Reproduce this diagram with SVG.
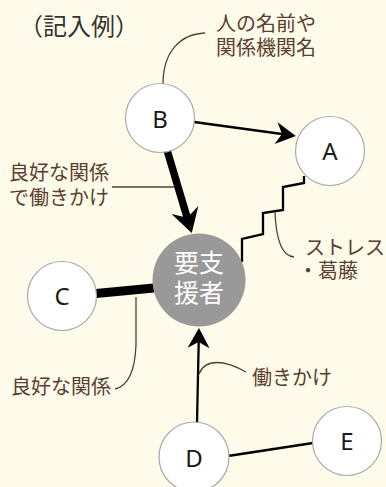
<svg xmlns="http://www.w3.org/2000/svg" width="386" height="487" viewBox="0 0 386 487">
<style>
.bg{fill:#FFFBEA}
.node{fill:#fff;stroke:#a8a8a8;stroke-width:1.2}
.center{fill:#999999}
.lt{font-family:"Noto Sans","Open Sans",sans-serif;font-size:24px;fill:#1a1a1a;text-anchor:middle}
.ct{font-family:"Noto Sans CJK JP",sans-serif;font-size:25px;fill:#ffffff;text-anchor:middle}
.lab{font-family:"Noto Sans CJK JP",sans-serif;font-size:20px;fill:#5a3e2e}
.title{font-family:"Noto Sans CJK JP",sans-serif;font-size:24px;fill:#333333}
.edge{fill:none;stroke:#000;stroke-width:2.3}
.thick{fill:none;stroke:#000;stroke-width:7.5}
.leader{fill:none;stroke:#5a3e2e;stroke-width:1.3}
</style>
<defs>
<marker id="arr" markerUnits="userSpaceOnUse" markerWidth="24" markerHeight="26" refX="6" refY="0" orient="auto" overflow="visible">
<path d="M20,0 L0,-11 L6,0 L0,11 Z" fill="#000"/>
</marker>
<marker id="arrBig" markerUnits="userSpaceOnUse" markerWidth="30" markerHeight="32" refX="8" refY="0" orient="auto" overflow="visible">
<path d="M24,0 L0,-14 L8,0 L0,14 Z" fill="#000"/>
</marker>
</defs>
<rect class="bg" x="0" y="0" width="386" height="487"/>
<text class="title" x="19" y="35">（記入例）</text>
<g id="connectors">
<line class="edge" x1="194" y1="122" x2="282" y2="134" marker-end="url(#arr)"/>
<line class="thick" x1="167" y1="150" x2="187.2" y2="217.7" marker-end="url(#arrBig)"/>
<line class="thick" x1="96" y1="293.5" x2="154" y2="288" style="stroke-width:9"/>
<line class="edge" x1="197" y1="423" x2="198.7" y2="342" marker-end="url(#arr)"/>
<line class="edge" x1="228" y1="456" x2="313" y2="443"/>
<polyline class="edge" points="304,176 304,183 283,187 283,210 263,213 263,234 242,239 242,262"/>
</g>
<g id="leaders">
<path class="leader" d="M205,33 C180,34 163,52 163,84"/>
<line class="leader" x1="112" y1="187" x2="174" y2="187"/>
<path class="leader" d="M275,212 C276,238 281,256 294,257"/>
<path class="leader" d="M136,297 L136,345 C135,372 128,386 115,389"/>
<path class="leader" d="M199,374 C205,358 225,360 246,372"/>
</g>
<g id="node-B">
<circle class="node" cx="160" cy="118" r="34.5"/>
<text class="lt" x="160" y="128">B</text>
</g>
<g id="node-A">
<circle class="node" cx="330" cy="151" r="34.5"/>
<text class="lt" x="330" y="160">A</text>
</g>
<g id="node-C">
<circle class="node" cx="62" cy="296" r="34.5"/>
<text class="lt" x="62" y="305">C</text>
</g>
<g id="node-D">
<circle class="node" cx="194" cy="457" r="35"/>
<text class="lt" x="194" y="467">D</text>
</g>
<g id="node-E">
<circle class="node" cx="347" cy="441" r="34.5"/>
<text class="lt" x="347" y="450">E</text>
</g>
<g id="node-center">
<circle class="center" cx="199" cy="280" r="46.5"/>
<text class="ct" x="199" y="272">要支</text>
<text class="ct" x="199" y="302">援者</text>
</g>
<g id="labels">
<text class="lab" x="216" y="31">人の名前や</text>
<text class="lab" x="216" y="55">関係機関名</text>
<text class="lab" x="9" y="180">良好な関係</text>
<text class="lab" x="9" y="205">で働きかけ</text>
<text class="lab" x="305" y="255">ストレス</text>
<text class="lab" x="298" y="278">・葛藤</text>
<text class="lab" x="11" y="394">良好な関係</text>
<text class="lab" x="252" y="385">働きかけ</text>
</g>
</svg>
